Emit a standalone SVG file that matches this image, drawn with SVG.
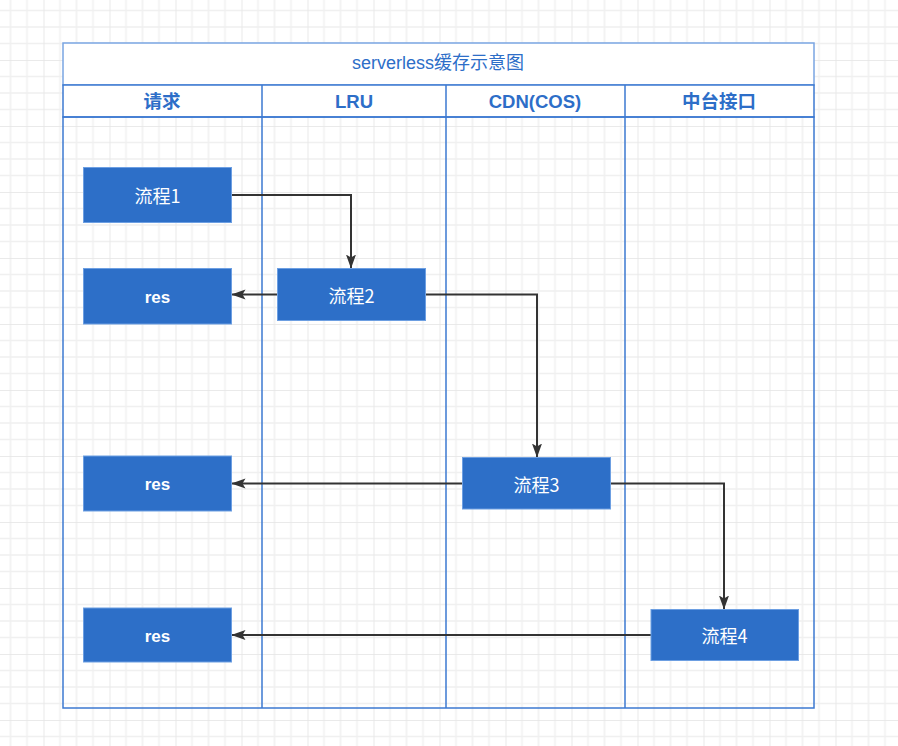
<svg xmlns="http://www.w3.org/2000/svg" width="898" height="746" viewBox="0 0 898 746">
<defs>
<pattern id="grid" x="-22.5" y="-6" width="66" height="66" patternUnits="userSpaceOnUse">
<path d="M16.5 0V66M33 0V66M49.5 0V66M0 16.5H66M0 33H66M0 49.5H66" stroke="#f0f0f0" stroke-width="1.5" fill="none"/>
<path d="M0 0V66M0 0H66" stroke="#e4e4e4" stroke-width="1.5" fill="none"/>
</pattern>
<marker id="arr" markerWidth="14" markerHeight="11" refX="13.5" refY="5.5" orient="auto" markerUnits="userSpaceOnUse">
<path d="M0 0.5L14 5.5L0 10.5L3 5.5Z" fill="#333"/>
</marker>
<style>
.node rect{fill:#2d6fc8;stroke:#6d9fe2;stroke-width:1}
.node text{fill:#fff;font-family:"Noto Sans CJK SC","Liberation Sans",sans-serif;font-size:18px;text-anchor:middle;dominant-baseline:central}
.node text.b{font-weight:bold;font-size:17px;font-family:"Liberation Sans","Noto Sans CJK SC",sans-serif}
.hdr{fill:#2d6ec8;font-family:"Liberation Sans","Noto Sans CJK SC",sans-serif;font-size:18.5px;font-weight:bold;text-anchor:middle;dominant-baseline:central}
.ttl{fill:#2d6ec8;font-family:"Liberation Sans","Noto Sans CJK SC",sans-serif;font-size:18px;text-anchor:middle;dominant-baseline:central}
.edge{stroke:#333;stroke-width:2;fill:none;marker-end:url(#arr)}
</style>
</defs>
<rect width="898" height="746" fill="#fff"/>
<rect width="898" height="746" fill="url(#grid)"/>
<g id="pool">
<rect x="63" y="43" width="751" height="42" fill="#fff" stroke="#7aa5e2" stroke-width="1.5"/>
<text class="ttl" x="438" y="63">serverless缓存示意图</text>
<rect x="63" y="85" width="751" height="32" fill="#fff" stroke="#3d79d1" stroke-width="1.5"/>
<rect x="63" y="117" width="751" height="591" fill="none" stroke="#3d79d1" stroke-width="1.5"/>
<path d="M262 85V708M446 85V708M625 85V708" stroke="#3d79d1" stroke-width="1.5"/>
<text class="hdr" x="162" y="101">请求</text>
<text class="hdr" x="354" y="101">LRU</text>
<text class="hdr" x="535" y="101">CDN(COS)</text>
<text class="hdr" x="719" y="101">中台接口</text>
</g>
<g id="edges">
<path class="edge" d="M231.5 195H351V268"/>
<path class="edge" d="M277 294.5H232"/>
<path class="edge" d="M425.5 294.5H537V457"/>
<path class="edge" d="M462 483.5H232"/>
<path class="edge" d="M610.5 483.5H724V609"/>
<path class="edge" d="M651 635H232"/>
</g>
<g id="n1" class="node"><rect x="83.5" y="167.5" width="148" height="55"/><text x="157.5" y="195">流程1</text></g>
<g id="r1" class="node"><rect x="83.5" y="268.5" width="148" height="55.5"/><text class="b" x="157.5" y="297">res</text></g>
<g id="n2" class="node"><rect x="277.5" y="268.5" width="148" height="52"/><text x="351.5" y="294.5">流程2</text></g>
<g id="r2" class="node"><rect x="83.5" y="456" width="148" height="55"/><text class="b" x="157.5" y="484">res</text></g>
<g id="n3" class="node"><rect x="462.5" y="457.5" width="148" height="51.5"/><text x="536.5" y="483.5">流程3</text></g>
<g id="r3" class="node"><rect x="83.5" y="608" width="148" height="54"/><text class="b" x="157.5" y="636">res</text></g>
<g id="n4" class="node"><rect x="651" y="609.5" width="147.5" height="51"/><text x="724.5" y="635">流程4</text></g>
</svg>
